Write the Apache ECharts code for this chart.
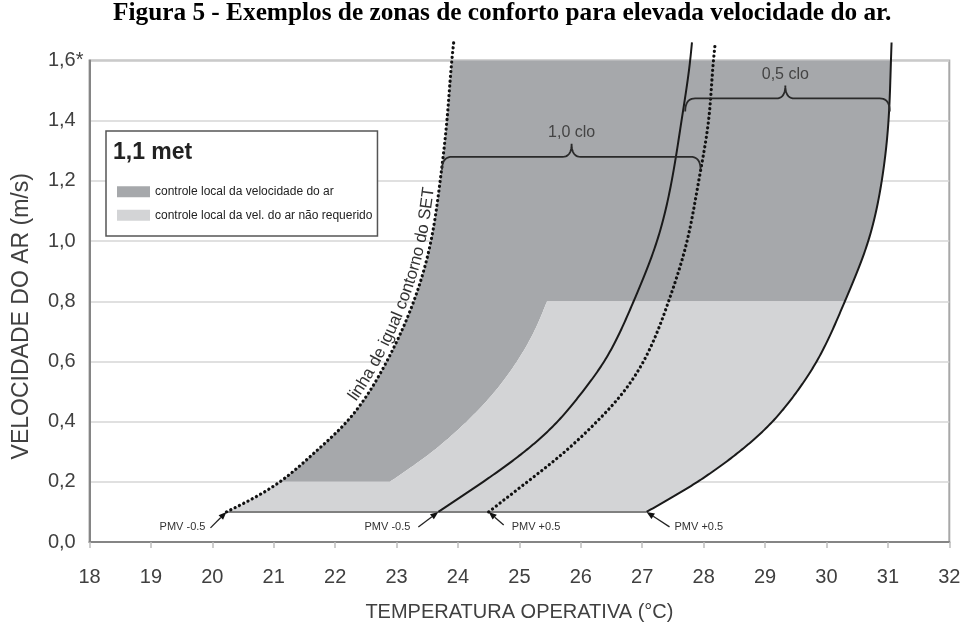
<!DOCTYPE html>
<html><head><meta charset="utf-8">
<script src="https://cdn.jsdelivr.net/npm/echarts@6/dist/echarts.min.js"></script>
<style>html,body{margin:0;padding:0;background:#fff}#c{width:968px;height:626px}</style>
</head><body><div id="c"></div>
<script>
// ---------- data ----------
const titleText = 'Figura 5 - Exemplos de zonas de conforto para elevada velocidade do ar.';
const xTickLabels = ['18','19','20','21','22','23','24','25','26','27','28','29','30','31','32'];
const yTickLabels = ['0,0','0,2','0,4','0,6','0,8','1,0','1,2','1,4','1,6*'];
const xName = 'TEMPERATURA OPERATIVA (°C)';
const yName = 'VELOCIDADE DO AR (m/s)';

// SET iso-contour (dotted, left)
const setCurve = [[20.23,0.1],[21.1,0.2],[21.68,0.3],[22.19,0.4],[22.84,0.6],[23.28,0.8],[23.56,1.0],[23.71,1.2],[23.82,1.4],[23.90,1.6],[23.93,1.66]];
// 1,0 clo PMV -0,5 (solid)
const pmvMinus10 = [[23.68,0.1],[24.41,0.2],[25.08,0.3],[25.62,0.4],[26.03,0.5],[26.38,0.6],[26.86,0.8],[27.24,1.0],[27.48,1.2],[27.64,1.4],[27.78,1.6],[27.81,1.66]];
// 1,0 clo PMV +0,5 (dotted)
const pmvPlus10 = [[24.50,0.1],[25.13,0.2],[25.74,0.3],[26.26,0.4],[26.70,0.5],[27.02,0.6],[27.43,0.8],[27.73,1.0],[27.92,1.2],[28.08,1.4],[28.16,1.6],[28.19,1.66]];
// 0,5 clo PMV +0,5 (solid, right)
const pmvPlus05 = [[27.07,0.1],[27.90,0.2],[28.58,0.3],[29.12,0.4],[29.52,0.5],[29.84,0.6],[30.30,0.8],[30.68,1.0],[30.90,1.2],[31.01,1.4],[31.05,1.6],[31.06,1.66]];
// boundary between the two zones
const zoneBoundary = [[22.89,0.2],[23.58,0.3],[24.14,0.4],[24.60,0.5],[24.96,0.6],[25.24,0.7],[25.45,0.8]];

const zoneNames = ['controle local da velocidade do ar','controle local da vel. do ar não requerido'];
const metLabel = '1,1 met';
const setLabel = 'linha de igual contorno do SET';

const braceStart = [23.74, 27.70];
const braceEnd   = [27.95, 31.03];
const braceLevel = [1.28, 1.474];
const braceMid   = [25.85, 29.33];
const braceLabels = ['1,0 clo', '0,5 clo'];

const pmvLabels = ['PMV -0.5','PMV -0.5','PMV +0.5','PMV +0.5'];

// ---------- styling ----------
const darkFill = '#a6a8ab';
const lightFill = '#d3d4d6';
const FONT = 'Liberation Sans';

const idxOf=(arr,y)=>arr.findIndex(p=>Math.abs(p[1]-y)<1e-9);

// ---------- helpers: natural cubic spline (chord-length parameter) through scaled points ----------
function natCoeffs(t,c){
  const N=c.length,M=new Array(N).fill(0);
  if(N<3) return M;
  const a=[],b=[],cc=[],d=[];
  for(let i=1;i<N-1;i++){
    const h0=t[i]-t[i-1],h1=t[i+1]-t[i];
    a.push(h0);b.push(2*(h0+h1));cc.push(h1);
    d.push(6*((c[i+1]-c[i])/h1-(c[i]-c[i-1])/h0));
  }
  const n=b.length;
  for(let i=1;i<n;i++){const m=a[i]/b[i-1];b[i]-=m*cc[i-1];d[i]-=m*d[i-1];}
  const x=new Array(n);
  x[n-1]=d[n-1]/b[n-1];
  for(let i=n-2;i>=0;i--) x[i]=(d[i]-cc[i]*x[i+1])/b[i];
  for(let i=0;i<n;i++) M[i+1]=x[i];
  return M;
}
function spline(px,from,to,n){
  n=n||20;
  const N=px.length,t=[0];
  for(let i=1;i<N;i++) t.push(t[i-1]+Math.max(Math.hypot(px[i][0]-px[i-1][0],px[i][1]-px[i-1][1]),1e-3));
  const X=px.map(p=>p[0]),Y=px.map(p=>p[1]);
  const MX=natCoeffs(t,X),MY=natCoeffs(t,Y);
  const ev=(C,M,i,s)=>{const h=t[i+1]-t[i],A=t[i+1]-s,B=s-t[i];
    return M[i]*A*A*A/(6*h)+M[i+1]*B*B*B/(6*h)+(C[i]/h-M[i]*h/6)*A+(C[i+1]/h-M[i+1]*h/6)*B;};
  const res=[];
  for(let i=from;i<to;i++){
    for(let k=(i>from?1:0);k<=n;k++){
      const s=t[i]+(t[i+1]-t[i])*k/n;
      res.push([ev(X,MX,i,s),ev(Y,MY,i,s)]);
    }
  }
  return res;
}
function quad(p0,c,p1,n){
  n=n||10;const o=[];
  for(let k=0;k<=n;k++){const t=k/n,u=1-t;o.push([u*u*p0[0]+2*u*t*c[0]+t*t*p1[0],u*u*p0[1]+2*u*t*c[1]+t*t*p1[1]]);}
  return o;
}
const toPx=(api,arr)=>arr.map(p=>api.coord(p));
const measureCtx=document.createElement('canvas').getContext('2d');

function curveSeries(arr,dotted){
  return {
    type:'custom', coordinateSystem:'cartesian2d', z:5, silent:true,
    data:[arr[0]],
    renderItem:(params,api)=>{
      const pts=spline(toPx(api,arr),0,arr.length-1,24);
      return {type:'polyline',shape:{points:pts},
        style: dotted ? {fill:null,stroke:'#111',lineWidth:3.2,lineDash:[0.1,4.7],lineCap:'round'}
                      : {fill:null,stroke:'#1a1a1a',lineWidth:2}};
    }
  };
}

const dom=document.getElementById('c');
const chart=echarts.init(dom,null,{renderer:'canvas'});

const option={
  animation:false,
  textStyle:{fontFamily:FONT},
  title:{text:titleText,left:113,top:0,padding:[1,0,0,0],
    textStyle:{fontFamily:'Liberation Serif',fontWeight:'bold',fontSize:25.3,color:'#000'}},
  grid:{left:89.5,right:18.7,top:60.5,bottom:84,show:true,borderColor:'#a8a8a8',borderWidth:2,backgroundColor:'#fff',outerBoundsMode:'none'},
  legend:{
    left:106,top:131,orient:'vertical',icon:'rect',itemWidth:33,itemHeight:11,itemGap:11.4,
    padding:[54.8,5,14.8,11],backgroundColor:'#fff',borderColor:'#555',borderWidth:1.5,borderRadius:0,
    textStyle:{fontSize:12,color:'#222',fontFamily:FONT},
    itemStyle:{borderWidth:0},
    selectedMode:false,
    data:[{name:zoneNames[0],itemStyle:{color:darkFill}},{name:zoneNames[1],itemStyle:{color:lightFill}}]
  },
  graphic:[{type:'text',left:113,top:141,z:100,style:{text:metLabel,fontSize:23,fontWeight:'bold',fill:'#222',fontFamily:FONT}}],
  xAxis:{type:'value',min:18,max:32,interval:1,
    name:xName,nameLocation:'middle',nameGap:60,nameTextStyle:{fontSize:20,color:'#404040',fontFamily:FONT},
    axisLine:{show:true,lineStyle:{color:'#858585',width:2}},
    axisTick:{show:true,length:6,lineStyle:{color:'#bdbdbd',width:1.5}},
    axisLabel:{fontSize:20,color:'#404040',margin:25,formatter:v=>xTickLabels[Math.round(v-18)]},
    splitLine:{show:false}},
  yAxis:{type:'value',min:0,max:1.6,interval:0.2,
    name:yName,nameLocation:'middle',nameGap:56,
    nameTextStyle:{fontSize:23,color:'#404040',fontFamily:FONT,padding:[0,30,0,0]},
    axisLine:{show:true,lineStyle:{color:'#858585',width:2}},
    axisTick:{show:false},
    axisLabel:{fontSize:20,color:'#404040',margin:6,
      formatter:v=>{const l=yTickLabels[Math.round(v/0.2)];return l.endsWith('*')?l.slice(0,-1)+'{a|*}':l+'{h|*}';},
      rich:{a:{fontSize:20,color:'#404040'},h:{fontSize:20,color:'rgba(0,0,0,0)'}}},
    splitLine:{show:true,lineStyle:{color:'#d6d6d6',width:1.5}}},
  series:[
    { // dark zone
      name:zoneNames[0],type:'custom',coordinateSystem:'cartesian2d',z:2,silent:true,
      itemStyle:{color:darkFill},data:[setCurve[1]],
      renderItem:(params,api)=>{
        const S=spline(toPx(api,setCurve),idxOf(setCurve,0.2),idxOf(setCurve,1.6));
        const R=spline(toPx(api,pmvPlus05),idxOf(pmvPlus05,0.8),idxOf(pmvPlus05,1.6)).reverse();
        const B=spline(toPx(api,zoneBoundary),0,zoneBoundary.length-1).reverse();
        return {type:'polygon',shape:{points:S.concat(R,B)},style:{fill:darkFill,stroke:null}};
      }
    },
    { // light zone
      name:zoneNames[1],type:'custom',coordinateSystem:'cartesian2d',z:2,silent:true,
      itemStyle:{color:lightFill},data:[setCurve[0]],
      renderItem:(params,api)=>{
        const S=spline(toPx(api,setCurve),0,idxOf(setCurve,0.2));
        const B=spline(toPx(api,zoneBoundary),0,zoneBoundary.length-1);
        const R=spline(toPx(api,pmvPlus05),0,idxOf(pmvPlus05,0.8)).reverse();
        return {type:'polygon',shape:{points:S.concat(B,R)},style:{fill:lightFill,stroke:null}};
      }
    },
    { // bottom limit 0,1 m/s
      type:'custom',coordinateSystem:'cartesian2d',z:4,silent:true,data:[setCurve[0],pmvPlus05[0]],
      renderItem:(params,api)=>{
        if(params.dataIndex!==0) return null;
        return {type:'polyline',shape:{points:[api.coord(setCurve[0]),api.coord(pmvPlus05[0])]},style:{fill:null,stroke:'#808080',lineWidth:2}};
      }
    },
    curveSeries(setCurve,true),
    curveSeries(pmvMinus10,false),
    curveSeries(pmvPlus10,true),
    curveSeries(pmvPlus05,false),
    { // braces
      type:'custom',coordinateSystem:'cartesian2d',z:6,silent:true,
      data:braceMid.map((m,i)=>[m,braceLevel[i]]),
      renderItem:(params,api)=>{
        const i=params.dataIndex;
        const a=api.coord([braceStart[i],braceLevel[i]]);
        const b=api.coord([braceEnd[i],braceLevel[i]]);
        const m=api.coord([braceMid[i],braceLevel[i]]);
        const y=a[1],re=10,he=13,rm=9,hm=13;
        const pts=[].concat(
          quad([a[0],y+he],[a[0],y],[a[0]+re,y]),
          quad([m[0]-rm,y],[m[0],y],[m[0],y-hm]),
          quad([m[0],y-hm],[m[0],y],[m[0]+rm,y]),
          quad([b[0]-re,y],[b[0],y],[b[0],y+he]));
        return {type:'group',children:[
          {type:'polyline',shape:{points:pts},style:{fill:null,stroke:'#2a2a2a',lineWidth:1.8}},
          {type:'text',x:m[0],y:y-hm-3,style:{text:braceLabels[i],fontSize:16,fontFamily:FONT,fill:'#444',align:'center',verticalAlign:'bottom'}}
        ]};
      }
    },
    { // PMV arrows + labels
      type:'custom',coordinateSystem:'cartesian2d',z:6,silent:true,
      data:[setCurve[0],pmvMinus10[0],pmvPlus10[0],pmvPlus05[0]],
      renderItem:(params,api)=>{
        const i=params.dataIndex;
        const tip=api.coord([api.value(0),api.value(1)]);
        const vec=[[-16,16],[-20,15],[15,13],[23,15]][i];
        const ldx=[-5,-8,8,5][i];
        const tail=[tip[0]+vec[0],tip[1]+vec[1]];
        const len=Math.hypot(vec[0],vec[1]);
        const ux=-vec[0]/len,uy=-vec[1]/len;
        const hl=8,hw=3.2;
        const base=[tip[0]-ux*hl,tip[1]-uy*hl];
        const nx=-uy,ny=ux;
        return {type:'group',children:[
          {type:'line',shape:{x1:tail[0],y1:tail[1],x2:base[0],y2:base[1]},style:{stroke:'#222',lineWidth:1.3}},
          {type:'polygon',shape:{points:[tip,[base[0]+nx*hw,base[1]+ny*hw],[base[0]-nx*hw,base[1]-ny*hw]]},style:{fill:'#111',stroke:null}},
          {type:'text',x:tail[0]+ldx,y:tip[1]+15,style:{text:pmvLabels[i],fontSize:11,fontFamily:FONT,fill:'#333',align:ldx<0?'right':'left',verticalAlign:'middle'}}
        ]};
      }
    },
    { // curved label along SET line
      type:'custom',coordinateSystem:'cartesian2d',z:6,silent:true,data:[setCurve[3]],
      renderItem:(params,api)=>{
        const fs=17,off=1.5,startY=0.45;
        const pts=spline(toPx(api,setCurve),0,setCurve.length-1,30);
        const cum=[0];
        for(let k=1;k<pts.length;k++) cum.push(cum[k-1]+Math.hypot(pts[k][0]-pts[k-1][0],pts[k][1]-pts[k-1][1]));
        const sy=api.coord([20,startY])[1];
        let s0=0;
        for(let k=0;k<pts.length;k++){if(pts[k][1]<=sy){s0=cum[k];break;}}
        measureCtx.font=fs+'px "'+FONT+'"';
        const children=[];let prev=0;
        for(let k=0;k<setLabel.length;k++){
          const w=measureCtx.measureText(setLabel.slice(0,k+1)).width;
          const mid=s0+(prev+w)/2;prev=w;
          const ch=setLabel[k];if(ch===' ')continue;
          let j=1;while(j<cum.length-1&&cum[j]<mid)j++;
          const t=(mid-cum[j-1])/(cum[j]-cum[j-1]);
          const x=pts[j-1][0]+t*(pts[j][0]-pts[j-1][0]),y=pts[j-1][1]+t*(pts[j][1]-pts[j-1][1]);
          let dx=pts[j][0]-pts[j-1][0],dy=pts[j][1]-pts[j-1][1];const L=Math.hypot(dx,dy);dx/=L;dy/=L;
          children.push({type:'text',x:x+dy*off,y:y-dx*off,rotation:-Math.atan2(dy,dx),
            style:{text:ch,fontSize:fs,fontFamily:FONT,fill:'#333',align:'center',verticalAlign:'bottom'}});
        }
        return {type:'group',children};
      }
    }
  ]
};
chart.setOption(option);
</script></body></html>
